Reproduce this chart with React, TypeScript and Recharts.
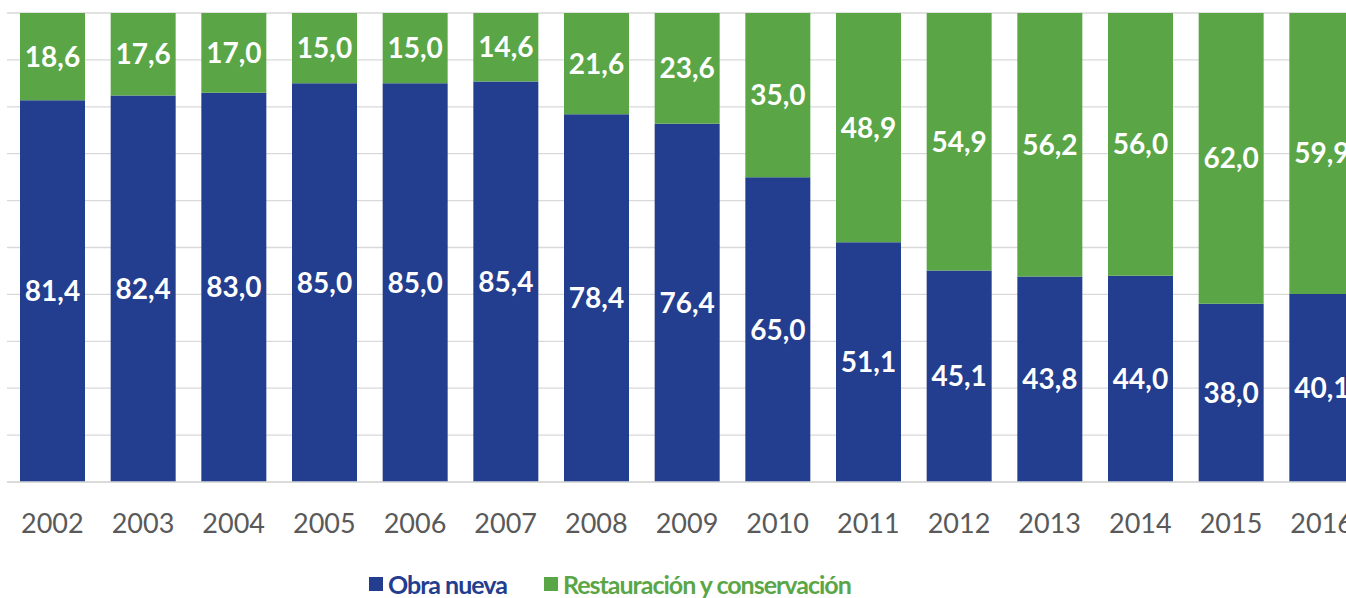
import React from "react";
import { BarChart, Bar, XAxis, YAxis, CartesianGrid, LabelList } from "recharts";

const years = ["2002","2003","2004","2005","2006","2007","2008","2009","2010","2011","2012","2013","2014","2015","2016"];
const obraNueva = [81.4, 82.4, 83.0, 85.0, 85.0, 85.4, 78.4, 76.4, 65.0, 51.1, 45.1, 43.8, 44.0, 38.0, 40.1];
const restauracion = [18.6, 17.6, 17.0, 15.0, 15.0, 14.6, 21.6, 23.6, 35.0, 48.9, 54.9, 56.2, 56.0, 62.0, 59.9];
const yTicks = [0, 10, 20, 30, 40, 50, 60, 70, 80, 90, 100];

const BLUE = "#233D8F";
const GREEN = "#5AA647";
const FONT = "Lato, 'Open Sans', sans-serif";

const data = years.map((y, i) => ({ year: y, obra: obraNueva[i], rest: restauracion[i] }));
const fmt = (v: any) => Number(v).toFixed(1).replace(".", ",");

export default function App() {
  return (
    <div style={{ position: "absolute", left: 0, top: 0, width: 1346, height: 598, overflow: "hidden", background: "#fff" }}>
      <BarChart width={1380} height={598} data={data} margin={{ top: 13, right: 13, left: 7, bottom: 76 }} barSize={65}>
        <CartesianGrid vertical={false} stroke="#D9D9D9" strokeWidth={1.3} />
        <YAxis hide domain={[0, 100]} ticks={yTicks} />
        <XAxis
          dataKey="year"
          axisLine={{ stroke: "#D9D9D9", strokeWidth: 1.3 }}
          tickLine={false}
          height={40}
          tickMargin={26}
          tick={{ fill: "#595959", fontSize: 27, fontFamily: FONT }}
          interval={0}
        />
        <Bar dataKey="obra" stackId="a" fill={BLUE} isAnimationActive={false}>
          <LabelList dataKey="obra" position="center" formatter={fmt} fill="#fff" style={{ fontSize: 28, fontWeight: 700, fontFamily: FONT }} />
        </Bar>
        <Bar dataKey="rest" stackId="a" fill={GREEN} isAnimationActive={false}>
          <LabelList dataKey="rest" position="center" formatter={fmt} fill="#fff" style={{ fontSize: 28, fontWeight: 700, fontFamily: FONT }} />
        </Bar>
      </BarChart>
      <div style={{ position: "absolute", left: 369, top: 569, display: "flex", alignItems: "center", fontFamily: FONT, fontWeight: 700, fontSize: 25, letterSpacing: -1, whiteSpace: "nowrap" }}>
        <span style={{ display: "inline-block", width: 14, height: 14, background: BLUE, marginRight: 5 }} />
        <span style={{ color: BLUE }}>Obra nueva</span>
        <span style={{ display: "inline-block", width: 14, height: 14, background: GREEN, marginLeft: 37, marginRight: 5 }} />
        <span style={{ color: GREEN }}>Restauración y conservación</span>
      </div>
    </div>
  );
}
